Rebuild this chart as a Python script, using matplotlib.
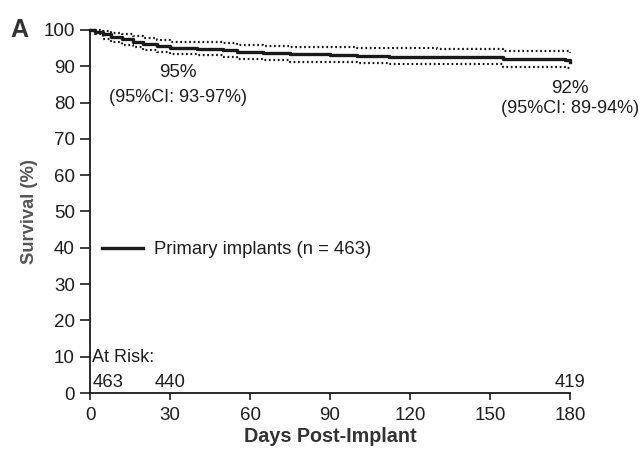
import matplotlib
matplotlib.use("Agg")
import matplotlib.pyplot as plt
import numpy as np

# Kaplan-Meier estimate
days = [0, 2, 5, 8, 12, 16, 20, 25, 30, 40, 50, 55, 65, 75, 90, 100, 112, 130, 155, 178, 180]
surv = [100, 99.4, 98.8, 98.0, 97.4, 96.8, 96.2, 95.6, 95.1, 94.9, 94.5, 94.0, 93.6, 93.3,
        93.1, 92.9, 92.6, 92.6, 91.9, 91.8, 91.2]
ci_upper = [100, 100, 99.8, 99.3, 98.8, 98.3, 97.8, 97.3, 96.8, 96.6, 96.3, 95.9, 95.6, 95.4,
            95.3, 95.1, 95.0, 94.9, 94.3, 94.2, 93.8]
ci_lower = [100, 98.8, 97.6, 96.6, 95.9, 95.2, 94.6, 94.0, 93.4, 93.0, 92.6, 92.0, 91.6, 91.3,
            91.1, 90.9, 90.6, 90.5, 89.8, 89.6, 88.9]

risk_days = [0, 30, 180]
risk_counts = [463, 440, 419]
x_ticks = [0, 30, 60, 90, 120, 150, 180]
y_ticks = list(range(0, 101, 10))

plt.rcParams["font.family"] = ["Liberation Sans", "DejaVu Sans"]
txt = "#1e1e1e"

fig = plt.figure(figsize=(6.43, 4.51), dpi=100)
ax = fig.add_axes([90 / 643, 1 - 393 / 451, 480 / 643, 363 / 451])

ax.step(days, surv, where="post", color="#1a1a1a", lw=2.4, clip_on=False,
        label="Primary implants (n = 463)")
ax.step(days, ci_upper, where="post", color="#1a1a1a", lw=1.6, ls=(0, (0.8, 1.2)), clip_on=False)
ax.step(days, ci_lower, where="post", color="#1a1a1a", lw=1.6, ls=(0, (0.8, 1.2)), clip_on=False)

ax.set_xlim(0, 180)
ax.set_ylim(0, 100)
ax.set_xticks(x_ticks)
ax.set_yticks(y_ticks)
ax.tick_params(axis="both", labelsize=13.5, colors=txt, direction="out", width=1.2)
ax.tick_params(axis="y", length=7, pad=4)
ax.tick_params(axis="x", length=5, pad=5)
for side in ("top", "right"):
    ax.spines[side].set_visible(False)
for side in ("left", "bottom"):
    ax.spines[side].set_linewidth(1.3)
    ax.spines[side].set_color("#1a1a1a")

ax.set_xlabel("Days Post-Implant", fontsize=14.2, fontweight="bold", color="#333333", labelpad=2)
ax.set_ylabel("Survival (%)", fontsize=13.2, fontweight="bold", color="#555555", labelpad=4)

ax.legend(loc="center left", bbox_to_anchor=(0.025, 0.395), frameon=False, fontsize=13.3,
          handlelength=2.2, handletextpad=0.6, borderpad=0, borderaxespad=0, labelcolor=txt)

ax.text(33, 88.2, "95%", ha="center", va="center", fontsize=13.5, color=txt)
ax.text(33, 81.5, "(95%CI: 93-97%)", ha="center", va="center", fontsize=13, color=txt)
ax.text(180, 84.0, "92%", ha="center", va="center", fontsize=13.5, color=txt)
ax.text(180, 78.5, "(95%CI: 89-94%)", ha="center", va="center", fontsize=13, color=txt, clip_on=False)

ax.text(0.8, 9.7, "At Risk:", ha="left", va="center", fontsize=13, color=txt)
for d, n in zip(risk_days, risk_counts):
    ha = "left" if d == 0 else "center"
    ax.text(d + (0.8 if d == 0 else 0), 2.8, str(n), ha=ha, va="center", fontsize=13.3, color=txt)

fig.text(10 / 643, 1 - 30 / 451, "A", fontsize=18, fontweight="bold", color="#333333",
         ha="left", va="center")

fig.savefig("out.png", dpi=100)
